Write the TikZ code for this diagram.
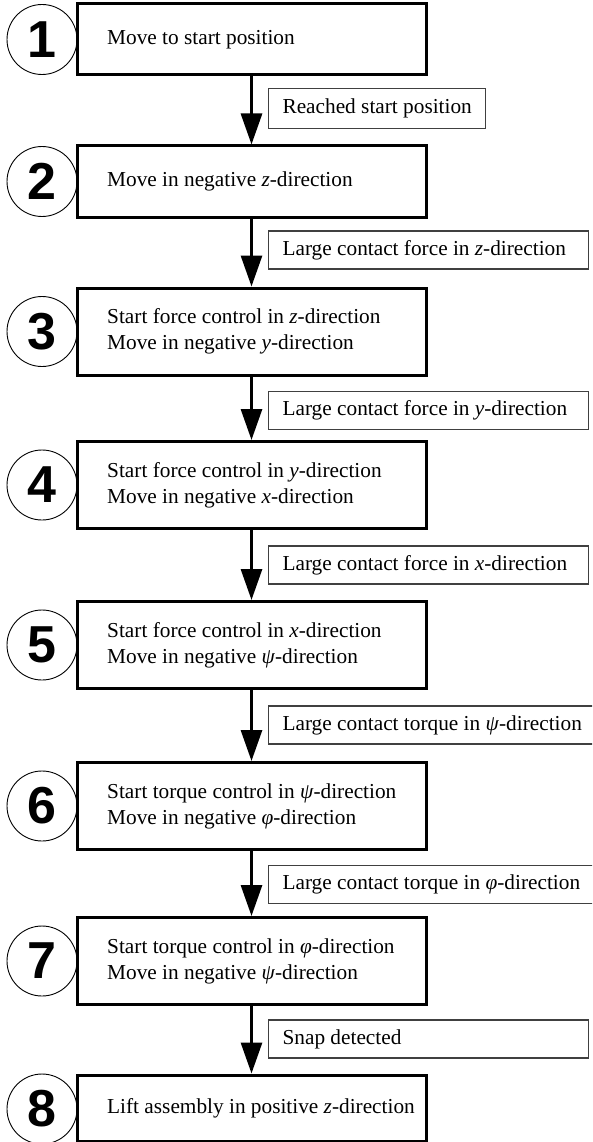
\documentclass[tikz,border=0pt]{standalone}
\usepackage{fontspec}
\setmainfont{Liberation Serif}
\setsansfont{Liberation Sans}
\usetikzlibrary{arrows.meta}
\begin{document}
\begin{tikzpicture}[x=1pt,y=-1pt,
  stepbox/.style={draw=black, line width=3pt, rectangle, minimum width=349pt, inner sep=0pt},
  steptext/.style={anchor=west, align=left, inner sep=0pt, font=\fontsize{21.3}{25.8}\selectfont},
  numcirc/.style={draw=black, line width=0.9pt, circle, minimum size=70pt, inner sep=0pt, font=\fontsize{52}{52}\sffamily\bfseries},
  condbox/.style={draw=black!75, line width=1.1pt, rectangle, anchor=west, align=flush left, inner xsep=14pt, inner ysep=0pt, minimum height=38pt, font=\fontsize{21.3}{25.8}\selectfont},
  flow/.style={line width=3pt, -{Triangle[width=21pt,length=31pt]}}
]
\useasboundingbox (0,0) rectangle (592,1142);
\clip (0,0) rectangle (592,1142);

% step boxes
\node[stepbox, minimum height=71pt] (b1) at (251.5,39.5) {};
\node[stepbox, minimum height=71pt] (b2) at (251.5,181.5) {};
\node[stepbox, minimum height=87pt] (b3) at (251.5,331.5) {};
\node[stepbox, minimum height=87pt] (b4) at (251.5,485) {};
\node[stepbox, minimum height=87pt] (b5) at (251.5,645) {};
\node[stepbox, minimum height=87pt] (b6) at (251.5,806) {};
\node[stepbox, minimum height=87pt] (b7) at (251.5,961) {};
\node[stepbox, minimum height=66pt] (b8) at (251.5,1108) {};

% step texts
\node[steptext] (t1) at (107,39.5) {Move to start position};
\node[steptext] (t2) at (107,181.5) {Move in negative \textit{z}-direction};
\node[steptext] (t3) at (107,331.5) {Start force control in \textit{z}-direction\\Move in negative \textit{y}-direction};
\node[steptext] (t4) at (107,485) {Start force control in \textit{y}-direction\\Move in negative \textit{x}-direction};
\node[steptext] (t5) at (107,645) {Start force control in \textit{x}-direction\\Move in negative \textit{ψ}-direction};
\node[steptext] (t6) at (107,806) {Start torque control in \textit{ψ}-direction\\Move in negative \textit{φ}-direction};
\node[steptext] (t7) at (107,961) {Start torque control in \textit{φ}-direction\\Move in negative \textit{ψ}-direction};
\node[steptext] (t8) at (107,1108) {Lift assembly in positive \textit{z}-direction};

% number circles
\node[numcirc] (c1) at (42,39.5) {1};
\node[numcirc] (c2) at (42,181.5) {2};
\node[numcirc] (c3) at (42,331.5) {3};
\node[numcirc] (c4) at (42,485) {4};
\node[numcirc] (c5) at (42,645) {5};
\node[numcirc] (c6) at (42,806) {6};
\node[numcirc] (c7) at (42,961) {7};
\node[numcirc] (c8) at (42,1109) {8};

% transition conditions
\node[condbox, minimum height=40pt] (l1) at (268,108.5) {Reached start position};
\node[condbox, text width=292pt] (l2) at (268,250) {Large contact force in \textit{z}-direction};
\node[condbox, text width=292pt] (l3) at (268,410.5) {Large contact force in \textit{y}-direction};
\node[condbox, text width=292pt] (l4) at (268,565) {Large contact force in \textit{x}-direction};
\node[condbox, text width=310pt] (l5) at (268,725) {Large contact torque in \textit{ψ}-direction};
\node[condbox, text width=310pt] (l6) at (268,884.5) {Large contact torque in \textit{φ}-direction};
\node[condbox, text width=292pt] (l7) at (268,1039) {Snap detected};

% arrows
\draw[flow] (b1.south) -- (b2.north);
\draw[flow] (b2.south) -- (b3.north);
\draw[flow] (b3.south) -- (b4.north);
\draw[flow] (b4.south) -- (b5.north);
\draw[flow] (b5.south) -- (b6.north);
\draw[flow] (b6.south) -- (b7.north);
\draw[flow] (b7.south) -- (b8.north);
\end{tikzpicture}
\end{document}
